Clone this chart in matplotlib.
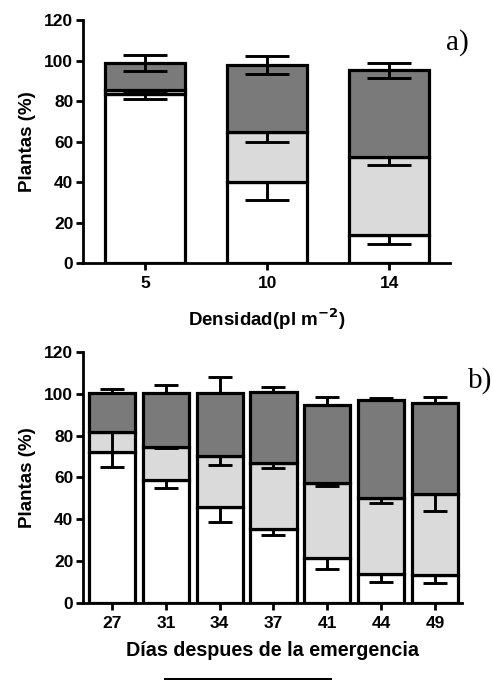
import matplotlib
matplotlib.use("Agg")
import matplotlib.pyplot as plt
from matplotlib.lines import Line2D
import numpy as np

plt.rcParams['font.family'] = ['Liberation Sans', 'DejaVu Sans']

# ---- Panel a: plant density ----
densidad = ["5", "10", "14"]
a_blanco = [83.5, 40.3, 14.0]          # lower segment (white)
a_claro = [2.0, 24.7, 38.3]            # middle segment (light grey)
a_oscuro = [13.3, 32.9, 42.8]          # upper segment (dark grey)
a_err_blanco = [2.6, 9.0, 4.6]
a_err_claro = [0.5, 5.0, 3.8]
a_err_oscuro = [4.0, 4.5, 3.7]

# ---- Panel b: days after emergence ----
dias = ["27", "31", "34", "37", "41", "44", "49"]
b_blanco = [72.3, 58.8, 45.8, 35.3, 21.5, 13.8, 13.5]
b_claro = [9.5, 15.9, 24.4, 31.5, 36.0, 36.2, 38.5]
b_oscuro = [18.3, 25.4, 29.9, 33.8, 37.1, 47.0, 43.4]
b_err_blanco = [7.2, 3.7, 6.9, 2.7, 5.3, 3.5, 4.0]
b_err_claro = [9.5, 0.7, 4.2, 2.4, 1.4, 2.3, 7.8]
b_err_oscuro = [2.1, 4.0, 7.9, 2.7, 3.6, 0.7, 3.1]

yticks = [0, 20, 40, 60, 80, 100, 120]

C_BLANCO = "#ffffff"
C_CLARO = "#dadada"
C_OSCURO = "#7a7a7a"

EDGE_LW = 2.3
ERR_LW = 2.1


def draw_panel(ax, labels, blanco, claro, oscuro, eb, ec, eo, width,
               capsize, dark_both):
    x = np.arange(len(labels))
    blanco = np.array(blanco)
    claro = np.array(claro)
    oscuro = np.array(oscuro)
    t1 = blanco
    t2 = blanco + claro
    t3 = t2 + oscuro
    ax.bar(x, blanco, width, color=C_BLANCO, edgecolor="black",
           linewidth=EDGE_LW, zorder=2)
    ax.bar(x, claro, width, bottom=t1, color=C_CLARO, edgecolor="black",
           linewidth=EDGE_LW, zorder=2)
    ax.bar(x, oscuro, width, bottom=t2, color=C_OSCURO, edgecolor="black",
           linewidth=EDGE_LW, zorder=2)
    zeros = np.zeros(len(x))
    kw = dict(fmt="none", ecolor="black", elinewidth=ERR_LW,
              capsize=capsize, capthick=ERR_LW, zorder=3)
    ax.errorbar(x, t1, yerr=[np.array(eb), zeros], **kw)
    ax.errorbar(x, t2, yerr=[np.array(ec), zeros], **kw)
    lower = np.array(eo) if dark_both else zeros
    ax.errorbar(x, t3, yerr=[lower, np.array(eo)], **kw)

    ax.set_xticks(x)
    ax.set_xticklabels(labels)
    ax.set_ylim(0, 120)
    ax.set_yticks(yticks)
    for s in ("top", "right"):
        ax.spines[s].set_visible(False)
    for s in ("left", "bottom"):
        ax.spines[s].set_linewidth(2.0)
    ax.tick_params(axis="both", direction="out", length=5, width=2.0,
                   labelsize=12.5, pad=2)
    ax.tick_params(axis="x", pad=4)
    for lab in ax.get_xticklabels() + ax.get_yticklabels():
        lab.set_fontweight("bold")
    ax.set_ylabel("Plantas (%)", fontsize=13.5, fontweight="bold", labelpad=6)


fig = plt.figure(figsize=(4.92, 6.80), dpi=100)

ax1 = fig.add_axes([0.1687, 0.6128, 0.746, 0.3578])
draw_panel(ax1, densidad, a_blanco, a_claro, a_oscuro,
           a_err_blanco, a_err_claro, a_err_oscuro,
           width=0.656, capsize=15.5, dark_both=True)
ax1.set_xlim(-0.51, 2.5)
ax1.set_xlabel("Densidad(pl m$^{\\mathbf{-2}}$)", fontsize=13.5,
               fontweight="bold", labelpad=11)
fig.text(0.929, 0.9375, "a)", family="Liberation Serif", fontsize=21,
         ha="center", va="center")

ax2 = fig.add_axes([0.1687, 0.1128, 0.770, 0.370])
draw_panel(ax2, dias, b_blanco, b_claro, b_oscuro,
           b_err_blanco, b_err_claro, b_err_oscuro,
           width=0.855, capsize=8.6, dark_both=False)
ax2.set_xlim(-0.54, 6.5)
ax2.set_xlabel("Días despues de la emergencia", fontsize=14.2,
               fontweight="bold", labelpad=7)
fig.text(0.975, 0.441, "b)", family="Liberation Serif", fontsize=21,
         ha="center", va="center")

# top edge of the legend frame below the chart
fig.add_artist(Line2D([165 / 492, 330 / 492], [1.5 / 680, 1.5 / 680],
                      transform=fig.transFigure, color="black", linewidth=2.2))

fig.savefig("out.png", dpi=100)
